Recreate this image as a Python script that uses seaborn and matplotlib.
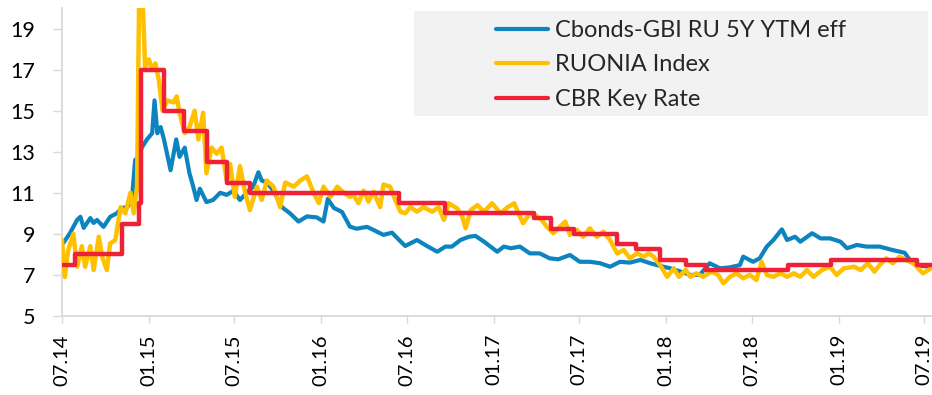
import numpy as np
import pandas as pd
import matplotlib
matplotlib.use("Agg")
import matplotlib.pyplot as plt
import matplotlib.dates as mdates
from matplotlib.patches import Rectangle
import seaborn as sns

# ---- data ----
gbi_dates = ["2014-07-04", "2014-07-18", "2014-08-02", "2014-08-09", "2014-08-16", "2014-08-30",
             "2014-09-06", "2014-09-13", "2014-09-27", "2014-10-11", "2014-10-25", "2014-11-05",
             "2014-11-16", "2014-11-26", "2014-12-03", "2014-12-10", "2014-12-17", "2014-12-28",
             "2015-01-08", "2015-01-13", "2015-01-19", "2015-01-26", "2015-02-02", "2015-02-16",
             "2015-02-28", "2015-03-07", "2015-03-18", "2015-03-28", "2015-04-05", "2015-04-12",
             "2015-04-19", "2015-05-03", "2015-05-17", "2015-06-01", "2015-06-15", "2015-06-29",
             "2015-07-13", "2015-07-27", "2015-08-10", "2015-08-21", "2015-08-28", "2015-09-08",
             "2015-09-22", "2015-10-10", "2015-10-27", "2015-11-14", "2015-12-02", "2015-12-23",
             "2016-01-06", "2016-01-15", "2016-01-28", "2016-02-14", "2016-03-02", "2016-03-16",
             "2016-04-07", "2016-04-21", "2016-05-12", "2016-05-30", "2016-06-10", "2016-06-27",
             "2016-07-22", "2016-08-12", "2016-09-03", "2016-09-20", "2016-10-04", "2016-10-22",
             "2016-11-09", "2016-11-23", "2016-12-11", "2017-01-08", "2017-01-22", "2017-02-06",
             "2017-02-25", "2017-03-18", "2017-04-08", "2017-04-29", "2017-05-17", "2017-06-11",
             "2017-07-02", "2017-07-23", "2017-08-14", "2017-09-04", "2017-09-25", "2017-10-16",
             "2017-11-07", "2017-11-28", "2017-12-19", "2018-01-10", "2018-02-01", "2018-02-21",
             "2018-03-13", "2018-04-03", "2018-04-25", "2018-05-16", "2018-06-06", "2018-06-13",
             "2018-07-04", "2018-07-18", "2018-08-02", "2018-08-16", "2018-09-03", "2018-09-14",
             "2018-10-01", "2018-10-12", "2018-11-06", "2018-11-24", "2018-12-14", "2019-01-05",
             "2019-01-19", "2019-02-09", "2019-03-01", "2019-03-29", "2019-04-26", "2019-05-21",
             "2019-06-04", "2019-06-22", "2019-07-16"]
gbi_ytm = [8.56, 9.04, 9.68, 9.83, 9.29, 9.77,
           9.53, 9.68, 9.34, 9.83, 10.0, 10.26,
           10.3, 10.65, 12.6, 12.75, 13.2, 13.6,
           13.9, 15.5, 13.9, 14.2, 13.6, 12.1,
           13.6, 12.75, 13.2, 11.95, 11.3, 10.65,
           11.2, 10.55, 10.65, 11.0, 10.9, 11.1,
           10.65, 11.0, 11.3, 12.0, 11.6, 11.5,
           11.1, 10.3, 10.0, 9.6, 9.85, 9.8,
           9.6, 10.7, 10.26, 10.07, 9.35, 9.25,
           9.34, 9.19, 8.95, 9.06, 8.8, 8.41,
           8.7, 8.41, 8.13, 8.38, 8.38, 8.7,
           8.86, 8.9, 8.62, 8.13, 8.38, 8.3,
           8.38, 8.05, 8.05, 7.81, 7.76, 7.97,
           7.64, 7.64, 7.57, 7.4, 7.64, 7.6,
           7.73, 7.57, 7.44, 7.32, 7.16, 7.0,
           7.0, 7.57, 7.32, 7.37, 7.48, 7.89,
           7.64, 7.81, 8.38, 8.7, 9.22, 8.7,
           8.86, 8.62, 9.03, 8.78, 8.78, 8.62,
           8.3, 8.46, 8.38, 8.38, 8.21, 8.08,
           7.64, 7.44, 7.4]

ruonia_dates = ["2014-07-01", "2014-07-07", "2014-07-14", "2014-07-25", "2014-08-02", "2014-08-12",
                "2014-08-19", "2014-08-30", "2014-09-06", "2014-09-17", "2014-09-24", "2014-10-04",
                "2014-10-11", "2014-10-22", "2014-11-02", "2014-11-12", "2014-11-23", "2014-11-30",
                "2014-12-07", "2014-12-12", "2014-12-18", "2014-12-24", "2015-01-01", "2015-01-08",
                "2015-01-15", "2015-01-22", "2015-01-30", "2015-02-09", "2015-02-22", "2015-03-01",
                "2015-03-07", "2015-03-18", "2015-03-28", "2015-04-08", "2015-04-16", "2015-04-26",
                "2015-05-03", "2015-05-14", "2015-05-25", "2015-06-04", "2015-06-15", "2015-06-22",
                "2015-07-02", "2015-07-13", "2015-07-24", "2015-08-03", "2015-08-18", "2015-08-28",
                "2015-09-08", "2015-09-22", "2015-10-06", "2015-10-17", "2015-11-04", "2015-11-18",
                "2015-12-02", "2015-12-16", "2015-12-27", "2016-01-06", "2016-01-21", "2016-02-04",
                "2016-02-18", "2016-03-02", "2016-03-09", "2016-03-20", "2016-03-31", "2016-04-10",
                "2016-04-21", "2016-05-05", "2016-05-12", "2016-05-26", "2016-06-06", "2016-06-17",
                "2016-06-27", "2016-07-08", "2016-07-22", "2016-08-05", "2016-08-23", "2016-09-06",
                "2016-09-17", "2016-09-27", "2016-10-15", "2016-10-26", "2016-11-02", "2016-11-13",
                "2016-11-27", "2016-12-11", "2016-12-28", "2017-01-15", "2017-01-30", "2017-02-13",
                "2017-02-25", "2017-03-04", "2017-03-18", "2017-03-29", "2017-04-12", "2017-04-23",
                "2017-05-07", "2017-05-17", "2017-06-01", "2017-06-11", "2017-06-26", "2017-07-09",
                "2017-07-23", "2017-08-07", "2017-08-21", "2017-09-04", "2017-09-19", "2017-10-03",
                "2017-10-16", "2017-10-31", "2017-11-14", "2017-11-25", "2017-12-05", "2017-12-19",
                "2018-01-03", "2018-01-17", "2018-01-28", "2018-02-11", "2018-02-21", "2018-03-06",
                "2018-03-20", "2018-04-07", "2018-04-21", "2018-05-02", "2018-05-16", "2018-05-30",
                "2018-06-13", "2018-06-27", "2018-07-11", "2018-07-22", "2018-08-02", "2018-08-16",
                "2018-08-31", "2018-09-14", "2018-09-28", "2018-10-12", "2018-10-26", "2018-11-09",
                "2018-11-27", "2018-12-14", "2018-12-28", "2019-01-12", "2019-02-03", "2019-02-17",
                "2019-03-04", "2019-03-18", "2019-03-29", "2019-04-12", "2019-04-26", "2019-05-10",
                "2019-05-24", "2019-06-08", "2019-06-29", "2019-07-16"]
ruonia_rate = [8.7, 6.9, 8.2, 9.0, 7.4, 8.4,
               7.4, 8.4, 7.24, 8.86, 7.89, 7.24,
               8.54, 8.7, 10.3, 10.0, 11.0, 10.0,
               11.3, 22.0, 21.0, 17.1, 17.5, 17.0,
               17.3, 16.5, 15.0, 15.5, 15.4, 15.7,
               14.9, 13.9, 14.2, 15.0, 13.6, 14.9,
               11.95, 13.2, 12.9, 13.2, 11.6, 12.4,
               10.8, 12.3, 11.0, 10.16, 11.3, 10.65,
               11.6, 11.3, 10.3, 11.5, 11.3, 11.6,
               11.8, 11.0, 10.5, 11.3, 10.8, 11.3,
               11.0, 10.8, 10.9, 10.5, 11.1, 10.57,
               11.05, 10.3, 11.4, 11.3, 10.65, 10.08,
               10.0, 10.3, 10.08, 10.3, 10.08, 10.3,
               9.68, 10.49, 10.24, 9.84, 9.27, 10.16,
               10.4, 10.08, 10.49, 10.0, 10.3, 10.49,
               9.84, 9.52, 10.0, 9.92, 9.68, 9.35,
               9.03, 9.27, 9.59, 8.95, 9.19, 8.86,
               9.27, 8.86, 9.11, 8.7, 8.05, 8.21,
               7.81, 8.05, 7.89, 8.05, 7.89, 7.48,
               6.91, 7.32, 6.91, 7.24, 6.91, 7.08,
               6.91, 7.16, 7.0, 6.59, 6.91, 7.08,
               6.84, 7.0, 6.75, 7.64, 7.0, 6.91,
               7.08, 6.91, 7.08, 6.91, 7.24, 6.91,
               7.24, 7.4, 7.0, 7.32, 7.4, 7.24,
               7.57, 7.16, 7.48, 7.81, 7.57, 7.89,
               7.73, 7.57, 7.08, 7.32]

key_dates = ["2014-07-01", "2014-07-28", "2014-11-05", "2014-12-12", "2014-12-16", "2015-02-02",
             "2015-03-16", "2015-05-05", "2015-06-16", "2015-08-03", "2016-06-14", "2016-09-19",
             "2017-03-27", "2017-05-02", "2017-06-19", "2017-09-18", "2017-10-30", "2017-12-18",
             "2018-02-12", "2018-03-26", "2018-09-17", "2018-12-17", "2019-06-17", "2019-07-18"]
key_rate = [7.5, 8.0, 9.5, 10.5, 17.0, 15.0,
            14.0, 12.5, 11.5, 11.0, 10.5, 10.0,
            9.75, 9.25, 9.0, 8.5, 8.25, 7.75,
            7.5, 7.25, 7.5, 7.75, 7.5, 7.5]

series_names = ["Cbonds-GBI RU 5Y YTM eff", "RUONIA Index", "CBR Key Rate"]
series_colors = ["#0B84BF", "#FFC000", "#EE2137"]
y_ticks = [5, 7, 9, 11, 13, 15, 17, 19]

# ---- style ----
sns.set_style("white")
plt.rcParams["font.family"] = ["Lato", "DejaVu Sans"]

gbi = pd.DataFrame({"date": pd.to_datetime(gbi_dates), "value": gbi_ytm})
ruonia = pd.DataFrame({"date": pd.to_datetime(ruonia_dates), "value": ruonia_rate})
key = pd.DataFrame({"date": pd.to_datetime(key_dates), "value": key_rate})

fig = plt.figure(figsize=(9.32, 3.95), dpi=100)
ax = fig.add_axes([62 / 932, 79 / 395, 870 / 932, 308 / 395])

sns.lineplot(data=gbi, x="date", y="value", ax=ax, color=series_colors[0],
             linewidth=3.0, label=series_names[0], zorder=2)
sns.lineplot(data=ruonia, x="date", y="value", ax=ax, color=series_colors[1],
             linewidth=3.2, label=series_names[1], zorder=3)
sns.lineplot(data=key, x="date", y="value", ax=ax, color=series_colors[2],
             linewidth=3.2, label=series_names[2], drawstyle="steps-post", zorder=4)

ax.set_xlim(pd.Timestamp("2014-07-01"), pd.Timestamp("2019-07-18"))
ax.set_ylim(5, 20)
ax.set_yticks(y_ticks)
ax.xaxis.set_major_locator(mdates.MonthLocator(bymonth=[1, 7]))
ax.xaxis.set_major_formatter(mdates.DateFormatter("%m.%y"))
ax.set_xlabel("")
ax.set_ylabel("")

grey = "#D9D9D9"
for side in ["top", "right"]:
    ax.spines[side].set_visible(False)
for side in ["left", "bottom"]:
    ax.spines[side].set_color(grey)
    ax.spines[side].set_linewidth(1.3)
ax.tick_params(axis="y", length=6.5, width=1.0, color=grey, pad=13,
               labelsize=15.5, labelcolor="black", direction="out", left=True)
ax.tick_params(axis="x", length=5, width=1.0, color=grey, pad=8,
               labelsize=14.5, labelcolor="black", direction="out", bottom=True,
               labelrotation=90)

# legend on a light grey panel
panel = Rectangle((414 / 932, 1 - 116 / 395), 514 / 932, 105 / 395,
                  transform=fig.transFigure, facecolor="#F2F2F2", edgecolor="none",
                  zorder=5)
ax.add_patch(panel)
panel.set_clip_on(False)
leg = ax.legend(loc="upper left", bbox_to_anchor=(496 / 932, 1 - 20 / 395),
                bbox_transform=fig.transFigure, frameon=False, fontsize=17,
                handlelength=2.2, handletextpad=0.3, labelspacing=0.57,
                borderpad=0, borderaxespad=0)
leg.set_zorder(6)
for line in leg.get_lines():
    line.set_linewidth(3.0)
    line.set_solid_capstyle("round")

fig.savefig("out.png", dpi=100)
